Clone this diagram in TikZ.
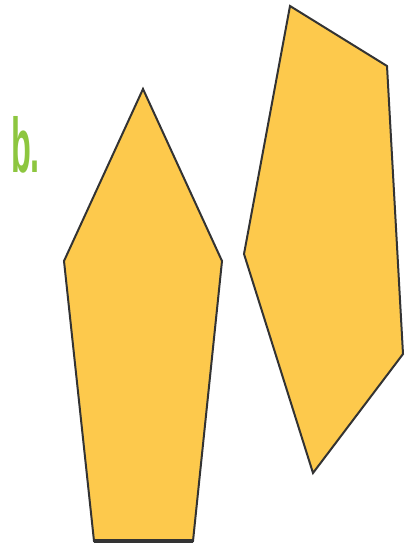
\documentclass[tikz,border=0pt]{standalone}
\usepackage{fontspec}
\setmainfont{Liberation Sans}
\definecolor{fillyel}{HTML}{FDC94C}
\definecolor{edgec}{HTML}{333333}
\definecolor{labgreen}{HTML}{8DC63F}
\begin{document}
\begin{tikzpicture}[x=0.75pt,y=-0.75pt,
  poly/.style={fill=fillyel,draw=edgec,line width=1.5pt,line join=miter},
  lab/.style={text=labgreen,font=\bfseries\fontsize{58}{58}\selectfont,inner sep=0pt,anchor=base west,xscale=0.42}]
\useasboundingbox (0,0) rectangle (406,546);
\draw[poly] (143,89) -- (222,261) -- (193,541) -- (94,541) -- (64,261) -- cycle;
\draw[edgec,line width=2.6pt] (94,541) -- (193,541);
\draw[poly] (290,6) -- (387,66) -- (403,354) -- (313,473) -- (244,254) -- cycle;
\node[lab] (b) at (11,172) {b.};
\end{tikzpicture}
\end{document}
